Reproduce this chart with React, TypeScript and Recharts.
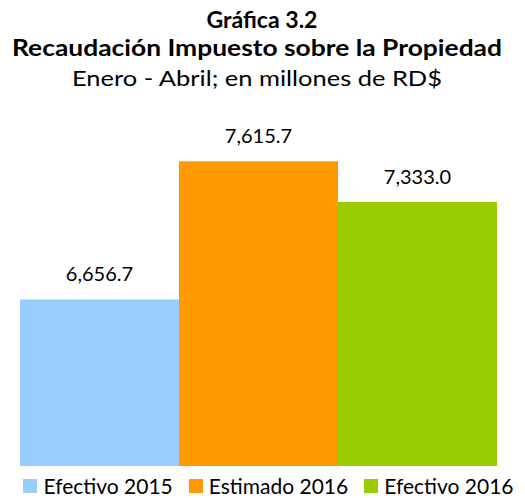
import { BarChart, Bar, XAxis, YAxis, LabelList } from 'recharts';

const seriesNames = ['Efectivo 2015', 'Estimado 2016', 'Efectivo 2016'];
const seriesKeys = ['e2015', 'est2016', 'e2016'];
const seriesValues = [6656.7, 7615.7, 7333.0];
const COLORS = ['#99CCFF', '#FF9900', '#99CC00'];

const titleLines = ['Gráfica 3.2', 'Recaudación Impuesto sobre la Propiedad'];
const subtitle = 'Enero - Abril; en millones de RD$';

const chartData = [
  seriesKeys.reduce((row, key, i) => ({ ...row, [key]: seriesValues[i] }), { name: '' }),
];

const FONT = 'Lato, "DejaVu Sans", sans-serif';

const fmt = (v: number) =>
  v.toLocaleString('en-US', { minimumFractionDigits: 1, maximumFractionDigits: 1 });

// legend drawn by hand so the squares and text sit like the original
const CustomLegend = () => (
  <div
    style={{
      display: 'flex',
      justifyContent: 'center',
      gap: 16,
      fontFamily: FONT,
      fontSize: 21,
      lineHeight: '22px',
      color: '#000',
    }}
  >
    {seriesNames.map((name, i) => (
      <div key={name} style={{ display: 'flex', alignItems: 'center' }}>
        <span
          style={{
            display: 'inline-block',
            width: 14,
            height: 14,
            background: COLORS[i],
            marginRight: 6,
          }}
        />
        <span>{name}</span>
      </div>
    ))}
  </div>
);

const App = () => {
  return (
    <div style={{ position: 'absolute', top: 0, left: 0, width: 525, height: 498, background: '#fff' }}>
      <svg width={525} height={100} style={{ position: 'absolute', top: 0, left: 0 }}>
        <text
          x={262}
          y={28}
          textAnchor="middle"
          fontFamily={FONT}
          fontSize={22}
          fontWeight="bold"
          textLength={111}
          lengthAdjust="spacingAndGlyphs"
        >
          {titleLines[0]}
        </text>
        <text
          x={257}
          y={56}
          textAnchor="middle"
          fontFamily={FONT}
          fontSize={22}
          fontWeight="bold"
          textLength={490}
          lengthAdjust="spacingAndGlyphs"
        >
          {titleLines[1]}
        </text>
        <text
          x={257}
          y={86}
          textAnchor="middle"
          fontFamily={FONT}
          fontSize={22}
          textLength={370}
          lengthAdjust="spacingAndGlyphs"
        >
          {subtitle}
        </text>
      </svg>
      <div style={{ position: 'absolute', top: 0, left: 0 }}>
        <BarChart
          width={525}
          height={498}
          data={chartData}
          margin={{ top: 106, right: 28, bottom: 32, left: 20 }}
          barCategoryGap={0}
          barGap={0}
        >
          <XAxis dataKey="name" hide />
          <YAxis hide domain={[5500, 8000]} allowDataOverflow />
          {seriesKeys.map((key, i) => (
            <Bar key={key} dataKey={key} name={seriesNames[i]} fill={COLORS[i]} isAnimationActive={false}>
              <LabelList
                dataKey={key}
                position="top"
                offset={18}
                formatter={(v: number) => fmt(v)}
                style={{ fontFamily: FONT, fontSize: 20, fill: '#000' }}
              />
            </Bar>
          ))}
        </BarChart>
      </div>
      <div style={{ position: 'absolute', top: 475, left: 6, width: 525 }}>
        <CustomLegend />
      </div>
    </div>
  );
};

export default App;
